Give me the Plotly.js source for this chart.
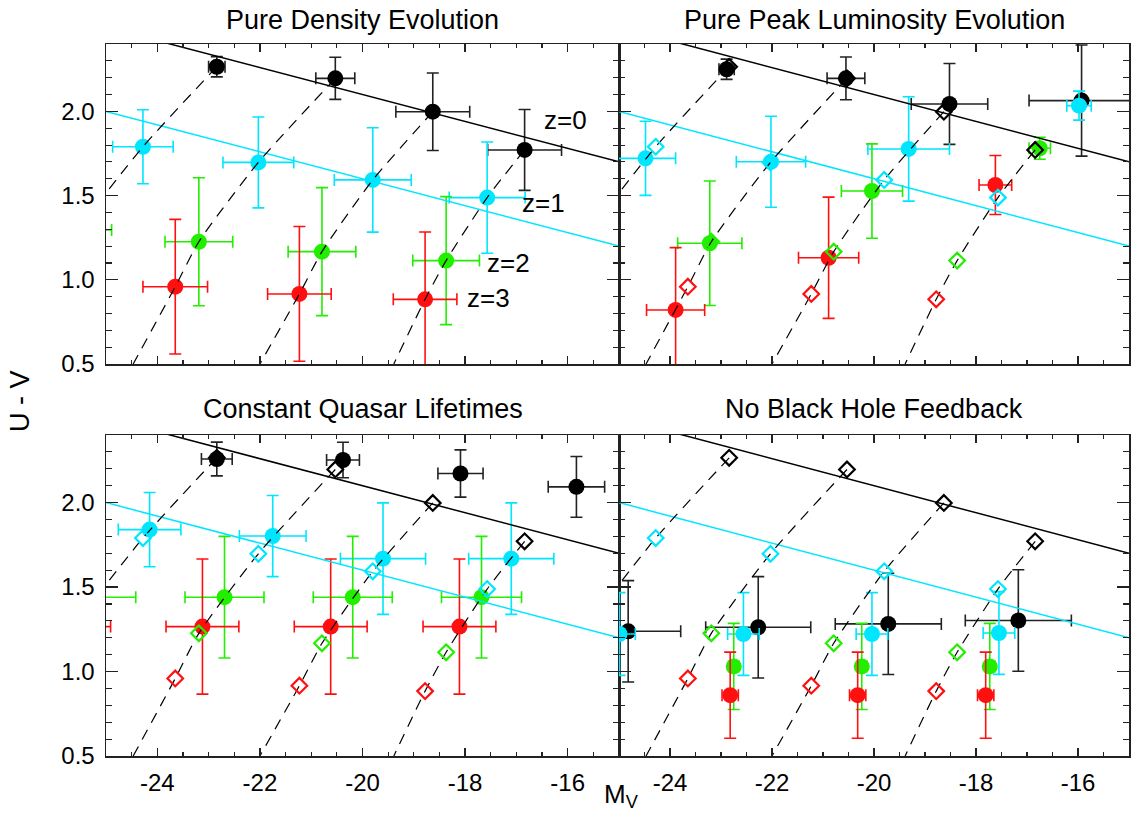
<!DOCTYPE html>
<html><head><meta charset="utf-8">
<script src="https://cdn.plot.ly/plotly-3.0.1.min.js"></script>
<style>html,body{margin:0;padding:0;background:#fff}</style>
</head><body>
<div id="chart" style="width:1136px;height:814px"></div>
<script>
// ---------- DATA ----------
const panelTitles = ['Pure Density Evolution', 'Pure Peak Luminosity Evolution',
                     'Constant Quasar Lifetimes', 'No Black Hole Feedback'];
const zLabels = ['z=0', 'z=1', 'z=2', 'z=3'];
const xTickVals = [-24, -22, -20, -18, -16];
const xTickText = ['-24', '-22', '-20', '-18', '-16'];
const yTickVals = [0.5, 1.0, 1.5, 2.0];
const yTickText = ['0.5', '1.0', '1.5', '2.0'];

// model positions of the four evolution tracks (A..D) at z = 0,1,2,3
const modelX_z0 = [-22.84, -20.53, -18.63, -16.84];
const modelY_z0 = [2.265, 2.196, 1.998, 1.771];
const modelX_z1 = [-24.28, -22.03, -19.80, -17.57];
const modelY_z1 = [1.790, 1.697, 1.593, 1.488];
const modelX_z2 = [-25.56, -23.19, -20.79, -18.37];
const modelY_z2 = [1.296, 1.226, 1.167, 1.114];
const modelX_z3 = [null, -23.65, -21.23, -18.78];
const modelY_z3 = [null, 0.959, 0.916, 0.884];
// where the dashed tracks leave the bottom of the frame
const trackEndX = [null, -24.47, -22.00, -19.39];
const trackEndY = [null, 0.5, 0.5, 0.5];

// reference colour-magnitude lines (z=0 black, z=1 cyan)
const refLineX = [-25, -15];
const refLineY_z0 = [2.5, 1.7];
const refLineY_z1 = [2.0, 1.2];

// Panel 1: Pure Density Evolution (points sit on the model)
const pde_blackXerr = [0.16, 0.38, 0.72, 0.72];
const pde_blackYerr = [0.06, 0.125, 0.23, 0.24];
const pde_cyanXerr  = [0.59, 0.69, 0.75, 0.74];
const pde_cyanYerr  = [0.22, 0.27, 0.31, 0.33];
const pde_greenXerr = [0.67, 0.66, 0.66, 0.65];
const pde_greenYerr = [0.38, 0.38, 0.38, 0.38];
const pde_redXerr   = [null, 0.63, 0.62, 0.62];
const pde_redYerr   = [null, 0.40, 0.40, 0.40];

// Panel 2: Pure Peak Luminosity Evolution
const pple_blackX = [-22.89, -20.55, -18.52, -15.93];
const pple_blackY = [2.250, 2.196, 2.044, 2.064];
const pple_blackXerr = [0.15, 0.37, 0.75, 1.03];
const pple_blackYerr = [0.06, 0.127, 0.24, 0.33];
const pple_cyanX = [-24.48, -22.02, -19.32, -15.98];
const pple_cyanY = [1.721, 1.701, 1.777, 2.034];
const pple_cyanXerr = [0.59, 0.68, 0.80, 0.24];
const pple_cyanYerr = [0.22, 0.27, 0.31, 0.086];
const pple_greenX = [-23.22, -20.04, -16.75];
const pple_greenY = [1.217, 1.527, 1.781];
const pple_greenXerr = [0.63, 0.60, 0.21];
const pple_greenYerr = [0.37, 0.28, 0.065];
const pple_redX = [-23.89, -20.89, -17.62];
const pple_redY = [0.821, 1.131, 1.563];
const pple_redXerr = [0.57, 0.59, 0.32];
const pple_redYerr = [0.37, 0.36, 0.175];

// Panel 3: Constant Quasar Lifetimes
const cql_blackX = [-22.84, -20.38, -18.09, -15.83];
const cql_blackY = [2.258, 2.252, 2.172, 2.093];
const cql_blackXerr = [0.30, 0.32, 0.44, 0.55];
const cql_blackYerr = [0.10, 0.105, 0.14, 0.18];
const cql_cyanX = [-24.15, -21.75, -19.60, -17.10];
const cql_cyanY = [1.840, 1.802, 1.668, 1.668];
const cql_cyanXerr = [0.61, 0.65, 0.83, 0.83];
const cql_cyanYerr = [0.22, 0.24, 0.33, 0.33];
const cql_greenX = [-25.19, -22.69, -20.19, -17.68];
const cql_greenY = [1.44, 1.44, 1.44, 1.44];
const cql_greenXerr = [0.77, 0.77, 0.77, 0.78];
const cql_greenYerr = [0.36, 0.36, 0.36, 0.36];
const cql_redX = [-25.62, -23.12, -20.62, -18.11];
const cql_redY = [1.266, 1.266, 1.266, 1.266];
const cql_redXerr = [0.71, 0.71, 0.71, 0.71];
const cql_redYerr = [0.40, 0.40, 0.40, 0.40];

// Panel 4: No Black Hole Feedback
const nbhf_blackX = [-24.82, -22.27, -19.72, -17.17];
const nbhf_blackY = [1.238, 1.262, 1.282, 1.302];
const nbhf_blackXerr = [1.03, 1.03, 1.04, 1.04];
const nbhf_blackYerr = [0.30, 0.30, 0.30, 0.30];
const nbhf_cyanX = [-24.99, -22.56, -20.04, -17.55];
const nbhf_cyanY = [1.222, 1.222, 1.222, 1.228];
const nbhf_cyanXerr = [0.31, 0.31, 0.31, 0.31];
const nbhf_cyanYerr = [0.245, 0.245, 0.245, 0.245];
const nbhf_greenX = [-22.75, -20.24, -17.73];
const nbhf_greenY = [1.03, 1.03, 1.03];
const nbhf_greenXerr = [0.10, 0.10, 0.10];
const nbhf_greenYerr = [0.255, 0.255, 0.255];
const nbhf_redX = [-22.82, -20.32, -17.81];
const nbhf_redY = [0.86, 0.86, 0.86];
const nbhf_redXerr = [0.16, 0.16, 0.16];
const nbhf_redYerr = [0.255, 0.255, 0.255];

// ---------- STYLE ----------
const C_BLACK = '#000000', C_CYAN = '#00e6ff', C_GREEN = '#22ee00', C_RED = '#ff1010';
const FONT = 'Liberation Sans, Arial, Helvetica, sans-serif';

const panels = [
  {xa:'x',  ya:'y',  obs: [
    {x:modelX_z0, y:modelY_z0, xe:pde_blackXerr, ye:pde_blackYerr, c:C_BLACK},
    {x:modelX_z1, y:modelY_z1, xe:pde_cyanXerr,  ye:pde_cyanYerr,  c:C_CYAN},
    {x:modelX_z2, y:modelY_z2, xe:pde_greenXerr, ye:pde_greenYerr, c:C_GREEN},
    {x:modelX_z3, y:modelY_z3, xe:pde_redXerr,   ye:pde_redYerr,   c:C_RED}], diamonds:false},
  {xa:'x2', ya:'y2', obs: [
    {x:pple_blackX, y:pple_blackY, xe:pple_blackXerr, ye:pple_blackYerr, c:C_BLACK},
    {x:pple_cyanX,  y:pple_cyanY,  xe:pple_cyanXerr,  ye:pple_cyanYerr,  c:C_CYAN},
    {x:pple_greenX, y:pple_greenY, xe:pple_greenXerr, ye:pple_greenYerr, c:C_GREEN},
    {x:pple_redX,   y:pple_redY,   xe:pple_redXerr,   ye:pple_redYerr,   c:C_RED}], diamonds:true},
  {xa:'x3', ya:'y3', obs: [
    {x:cql_blackX, y:cql_blackY, xe:cql_blackXerr, ye:cql_blackYerr, c:C_BLACK},
    {x:cql_cyanX,  y:cql_cyanY,  xe:cql_cyanXerr,  ye:cql_cyanYerr,  c:C_CYAN},
    {x:cql_greenX, y:cql_greenY, xe:cql_greenXerr, ye:cql_greenYerr, c:C_GREEN},
    {x:cql_redX,   y:cql_redY,   xe:cql_redXerr,   ye:cql_redYerr,   c:C_RED}], diamonds:true},
  {xa:'x4', ya:'y4', obs: [
    {x:nbhf_blackX, y:nbhf_blackY, xe:nbhf_blackXerr, ye:nbhf_blackYerr, c:C_BLACK},
    {x:nbhf_cyanX,  y:nbhf_cyanY,  xe:nbhf_cyanXerr,  ye:nbhf_cyanYerr,  c:C_CYAN},
    {x:nbhf_greenX, y:nbhf_greenY, xe:nbhf_greenXerr, ye:nbhf_greenYerr, c:C_GREEN},
    {x:nbhf_redX,   y:nbhf_redY,   xe:nbhf_redXerr,   ye:nbhf_redYerr,   c:C_RED}], diamonds:true}
];

const modelSets = [
  {x:modelX_z0, y:modelY_z0, c:C_BLACK},
  {x:modelX_z1, y:modelY_z1, c:C_CYAN},
  {x:modelX_z2, y:modelY_z2, c:C_GREEN},
  {x:modelX_z3, y:modelY_z3, c:C_RED}
];

const traces = [];
panels.forEach(p => {
  // observed points with error bars
  p.obs.forEach(s => {
    const ecol = s.c === C_BLACK ? '#222' : s.c;
    traces.push({
      type:'scatter', mode:'markers', xaxis:p.xa, yaxis:p.ya, x:s.x, y:s.y,
      marker:{symbol:'circle', size:16, color:s.c, line:{width:0}},
      error_x:{type:'data', array:s.xe, visible:true, color:ecol, thickness:1.6, width:6},
      error_y:{type:'data', array:s.ye, visible:true, color:ecol, thickness:1.6, width:6},
      showlegend:false, hoverinfo:'skip'
    });
  });
  // reference lines
  traces.push({type:'scatter', mode:'lines', xaxis:p.xa, yaxis:p.ya, x:refLineX, y:refLineY_z0,
               line:{color:'#000', width:1.5}, showlegend:false, hoverinfo:'skip'});
  traces.push({type:'scatter', mode:'lines', xaxis:p.xa, yaxis:p.ya, x:refLineX, y:refLineY_z1,
               line:{color:C_CYAN, width:1.5}, showlegend:false, hoverinfo:'skip'});
  // dashed evolution tracks
  for (let i = 0; i < modelX_z0.length; i++) {
    const tx = [modelX_z0[i], modelX_z1[i], modelX_z2[i], modelX_z3[i], trackEndX[i]];
    const ty = [modelY_z0[i], modelY_z1[i], modelY_z2[i], modelY_z3[i], trackEndY[i]];
    const fx = [], fy = [];
    tx.forEach((v, k) => { if (v !== null && ty[k] !== null) { fx.push(v); fy.push(ty[k]); } });
    traces.push({type:'scatter', mode:'lines', xaxis:p.xa, yaxis:p.ya, x:fx, y:fy,
                 line:{color:'#000', width:1.2, dash:'11px,8px', shape:'spline', smoothing:0.6},
                 showlegend:false, hoverinfo:'skip'});
  }
  // model diamonds
  if (p.diamonds) {
    modelSets.forEach(m => {
      traces.push({type:'scatter', mode:'markers', xaxis:p.xa, yaxis:p.ya, x:m.x, y:m.y,
                   marker:{symbol:'diamond-open', size:12, color:m.c, line:{width:2.2, color:m.c}},
                   showlegend:false, hoverinfo:'skip'});
    });
  }
});

// ---------- LAYOUT ----------
const W = 1136, H = 814;
const colL = [106 / W, 619 / W], colR = [619 / W, 1129 / W];
const rowT = [(H - 364) / H, (H - 44) / H], rowB = [(H - 756) / H, (H - 435) / H];

function xAxis(domain, anchor, labels) {
  return {domain, anchor, range:[-25, -15], showgrid:false, zeroline:false,
    showline:true, linecolor:'#222', linewidth:1.5, mirror:'ticks',
    ticks:'inside', ticklen:8, tickwidth:1.3, tickcolor:'#222',
    tickmode:'array', tickvals:xTickVals, ticktext:xTickText,
    minor:{ticks:'inside', ticklen:4, tickwidth:1.1, tickcolor:'#222', tick0:0, dtick:0.5, showgrid:false},
    showticklabels:labels, ticklabelstandoff:5,
    tickfont:{family:FONT, size:24, color:'#000'}, fixedrange:true};
}
function yAxis(domain, anchor, labels) {
  return {domain, anchor, range:[0.5, 2.4], showgrid:false, zeroline:false,
    showline:true, linecolor:'#222', linewidth:1.5, mirror:'ticks',
    ticks:'inside', ticklen:12, tickwidth:1.3, tickcolor:'#222',
    tickmode:'array', tickvals:yTickVals, ticktext:yTickText,
    minor:{ticks:'inside', ticklen:6, tickwidth:1.1, tickcolor:'#222', tick0:0.5, dtick:0.1, showgrid:false},
    showticklabels:labels, ticklabelstandoff:5,
    tickfont:{family:FONT, size:24, color:'#000'}, fixedrange:true};
}

const annotations = [];
const titlePos = [
  {x:(colL[0] + colL[1]) / 2, y:(H - 20) / H},
  {x:(colR[0] + colR[1]) / 2, y:(H - 20) / H},
  {x:(colL[0] + colL[1]) / 2, y:(H - 409) / H},
  {x:(colR[0] + colR[1]) / 2, y:(H - 409) / H}
];
panelTitles.forEach((t, i) => annotations.push({
  xref:'paper', yref:'paper', x:titlePos[i].x, y:titlePos[i].y, text:t, showarrow:false,
  xanchor:'center', yanchor:'middle', font:{family:FONT, size:27, color:'#000'}
}));
annotations.push({xref:'paper', yref:'paper', x:20 / W, y:(H - 401) / H, text:'U - V', textangle:-90,
  showarrow:false, xanchor:'center', yanchor:'middle', font:{family:FONT, size:27, color:'#000'}});
annotations.push({xref:'paper', yref:'paper', x:602 / W, y:0, text:'M<sub>V</sub>',
  showarrow:false, xanchor:'left', yanchor:'bottom', font:{family:FONT, size:26, color:'#000'}});
const zPos = [[-16.04, 1.949], [-16.47, 1.454], [-17.15, 1.098], [-17.54, 0.890]];
zLabels.forEach((t, i) => annotations.push({
  xref:'x', yref:'y', x:zPos[i][0], y:zPos[i][1], text:t, showarrow:false,
  xanchor:'center', yanchor:'middle', font:{family:FONT, size:26, color:'#000'}
}));

const layout = {
  width:W, height:H, autosize:false, margin:{l:0, r:0, t:0, b:0},
  paper_bgcolor:'#fff', plot_bgcolor:'#fff', showlegend:false,
  font:{family:FONT, color:'#000'},
  xaxis: xAxis(colL, 'y',  false), yaxis: yAxis(rowT, 'x',  true),
  xaxis2:xAxis(colR, 'y2', false), yaxis2:yAxis(rowT, 'x2', false),
  xaxis3:xAxis(colL, 'y3', true),  yaxis3:yAxis(rowB, 'x3', true),
  xaxis4:xAxis(colR, 'y4', true),  yaxis4:yAxis(rowB, 'x4', false),
  annotations
};

Plotly.newPlot('chart', traces, layout, {staticPlot:true, displayModeBar:false});
</script>
</body></html>
